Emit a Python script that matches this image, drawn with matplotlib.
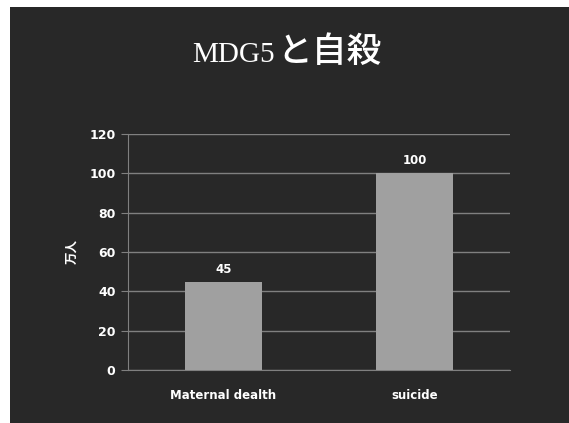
import matplotlib.pyplot as plt
from matplotlib.patches import Rectangle

categories = ['Maternal dealth', 'suicide']
values = [45, 100]
value_labels = ['45', '100']
yticks = [0, 20, 40, 60, 80, 100, 120]

plt.rcParams['font.family'] = ['DejaVu Sans', 'Noto Sans CJK JP']

W, H = 569, 423
fig = plt.figure(figsize=(W / 100, H / 100), dpi=100)
fig.patch.set_facecolor('white')

bg = '#282828'
fig.patches.append(Rectangle((10 / W, 0), 1 - 10 / W, 1 - 7 / H,
                             transform=fig.transFigure, facecolor=bg,
                             edgecolor='none', zorder=-10))

ax = fig.add_axes([128 / W, 1 - 370 / H, (510 - 128) / W, (370 - 134) / H])
ax.set_facecolor(bg)

x = list(range(len(categories)))
ax.bar(x, values, width=0.4, color='#a0a0a0', zorder=3)
for xi, v, lab in zip(x, values, value_labels):
    ax.text(xi, v + 3, lab, ha='center', va='bottom', color='white',
            fontsize=8.5, fontweight='bold')

ax.set_xlim(-0.5, 1.5)
ax.set_ylim(0, 120)
ax.set_yticks(yticks)
ax.yaxis.grid(True, color='#808080', linewidth=1)
ax.set_axisbelow(True)
ax.set_xticks(x)
ax.set_xticklabels(categories, color='white', fontsize=8.5, fontweight='bold')
ax.tick_params(axis='y', colors='#808080', labelcolor='white', labelsize=9,
               length=5, direction='out', pad=4)
ax.tick_params(axis='x', length=0, pad=14)
for lab in ax.get_yticklabels():
    lab.set_fontweight('bold')
for s in ['top', 'right']:
    ax.spines[s].set_visible(False)
ax.spines['left'].set_color('#808080')
ax.spines['bottom'].set_color('#808080')

ax.set_ylabel('万人', color='white', fontsize=9, fontweight='bold',
              family=['Noto Sans CJK JP'], labelpad=8)

# title: serif latin part + gothic japanese part
fig.text(275 / W, 1 - 62 / H, 'MDG5', ha='right', va='baseline',
         color='white', fontsize=21, family=['Liberation Serif'])
fig.text(277 / W, 1 - 62 / H, 'と自殺', ha='left', va='baseline',
         color='white', fontsize=25, fontweight='medium',
         family=['Noto Sans CJK JP'])

fig.savefig('out.png', dpi=100, facecolor=fig.get_facecolor())
